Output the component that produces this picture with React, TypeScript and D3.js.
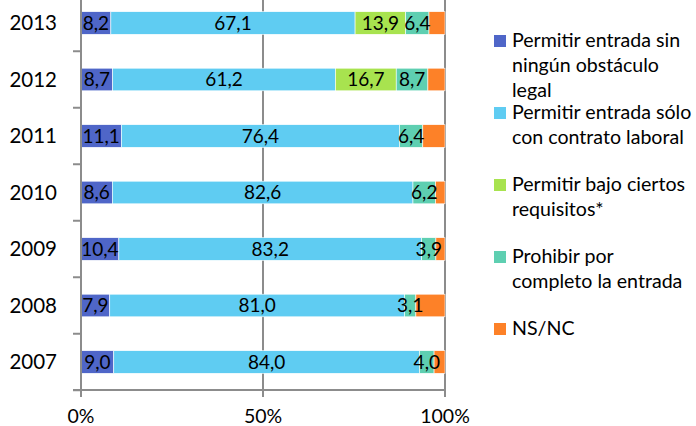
import React from "react";
import * as d3 from "d3";

const years = ["2013", "2012", "2011", "2010", "2009", "2008", "2007"];
const sinObstaculo = [8.2, 8.7, 11.1, 8.6, 10.4, 7.9, 9.0];
const conContrato = [67.1, 61.2, 76.4, 82.6, 83.2, 81.0, 84.0];
const bajoRequisitos = [13.9, 16.7, 0, 0, 0, 0, 0];
const prohibir = [6.4, 8.7, 6.4, 6.2, 3.9, 3.1, 4.0];
const nsnc = [4.4, 4.7, 6.1, 2.6, 2.5, 8.0, 3.0];
const seriesNames = [
  ["Permitir entrada sin", "ningún obstáculo", "legal"],
  ["Permitir entrada sólo", "con contrato laboral"],
  ["Permitir bajo ciertos", "requisitos*"],
  ["Prohibir por", "completo la entrada"],
  ["NS/NC"],
];
const seriesLabeled = [true, true, true, true, false];
const colors = ["#4F66C8", "#5FCCF2", "#A8E34F", "#5ECFB1", "#FD8128"];
const xTicks = [0, 50, 100];

const W = 696;
const H = 426;
const FONT = "Lato, 'Open Sans', sans-serif";

export default function App() {
  const allSeries = [sinObstaculo, conContrato, bajoRequisitos, prohibir, nsnc];
  const x = d3.scaleLinear().domain([0, 100]).range([81, 445]);
  const y = d3
    .scaleBand<string>()
    .domain(years)
    .range([-5.25, 390.25])
    .paddingInner(0.6)
    .paddingOuter(0.3);

  const rows = years.map((yr, i) => {
    const vals = allSeries.map((s) => s[i]);
    const total = d3.sum(vals);
    let acc = 0;
    return vals.map((v, k) => {
      const p0 = (acc / total) * 100;
      acc += v;
      const p1 = (acc / total) * 100;
      return { yr, k, v, p0, p1 };
    });
  });

  const step = y.step();
  const boundaries = d3.range(years.length + 1).map((i) => -5.25 + i * step);
  const axisColor = "#8c8c8c";
  const fmt = (v: number) => v.toFixed(1).replace(".", ",");

  return (
    <svg
      width={W}
      height={H}
      style={{ position: "absolute", left: 0, top: 0, background: "#fff" }}
      fontFamily={FONT}
    >
      <rect x={0} y={0} width={W} height={H} fill="#fff" />
      {/* gridlines */}
      {xTicks.slice(1).map((t) => (
        <line key={"g" + t} x1={x(t)} x2={x(t)} y1={-10} y2={390} stroke={axisColor} strokeWidth={2} />
      ))}
      {/* bars */}
      {rows.map((segs) =>
        segs.map((s) =>
          s.v > 0 ? (
            <rect
              key={s.yr + s.k}
              x={x(s.p0)}
              y={y(s.yr)}
              width={x(s.p1) - x(s.p0)}
              height={y.bandwidth()}
              fill={colors[s.k]}
              stroke="#fff"
              strokeWidth={0.6}
            />
          ) : null
        )
      )}
      {/* labels */}
      {rows.map((segs) =>
        segs.map((s) =>
          s.v > 0 && seriesLabeled[s.k] ? (
            <text
              key={"l" + s.yr + s.k}
              x={(x(s.p0) + x(s.p1)) / 2}
              y={(y(s.yr) as number) + y.bandwidth() / 2}
              dy="0.36em"
              textAnchor="middle"
              fontSize={19}
              fill="#000"
            >
              {fmt(s.v)}
            </text>
          ) : null
        )
      )}
      {/* y axis */}
      <line x1={81} x2={81} y1={-10} y2={390} stroke={axisColor} strokeWidth={2} />
      {boundaries.map((b, i) => (
        <line key={"yt" + i} x1={73} x2={81} y1={b} y2={b} stroke={axisColor} strokeWidth={2} />
      ))}
      {years.map((yr) => (
        <text
          key={"yl" + yr}
          x={57}
          y={(y(yr) as number) + y.bandwidth() / 2}
          dy="0.36em"
          textAnchor="end"
          fontSize={20.5}
          fill="#000"
        >
          {yr}
        </text>
      ))}
      {/* x axis */}
      <line x1={73} x2={446} y1={390} y2={390} stroke={axisColor} strokeWidth={2} />
      {xTicks.map((t) => (
        <g key={"xt" + t}>
          <line x1={x(t)} x2={x(t)} y1={390} y2={397} stroke={axisColor} strokeWidth={2} />
          <text x={x(t)} y={423} textAnchor="middle" fontSize={19.5} fill="#000">
            {t + "%"}
          </text>
        </g>
      ))}
      {/* legend */}
      {seriesNames.map((lines, i) => {
        const top = 35 + i * 72;
        return (
          <g key={"lg" + i}>
            <rect x={494} y={top} width={12} height={12} fill={colors[i]} />
            {lines.map((ln, j) => (
              <text key={j} x={512} y={top + 12 + j * 25} fontSize={19.6} fill="#000">
                {ln}
              </text>
            ))}
          </g>
        );
      })}
    </svg>
  );
}
